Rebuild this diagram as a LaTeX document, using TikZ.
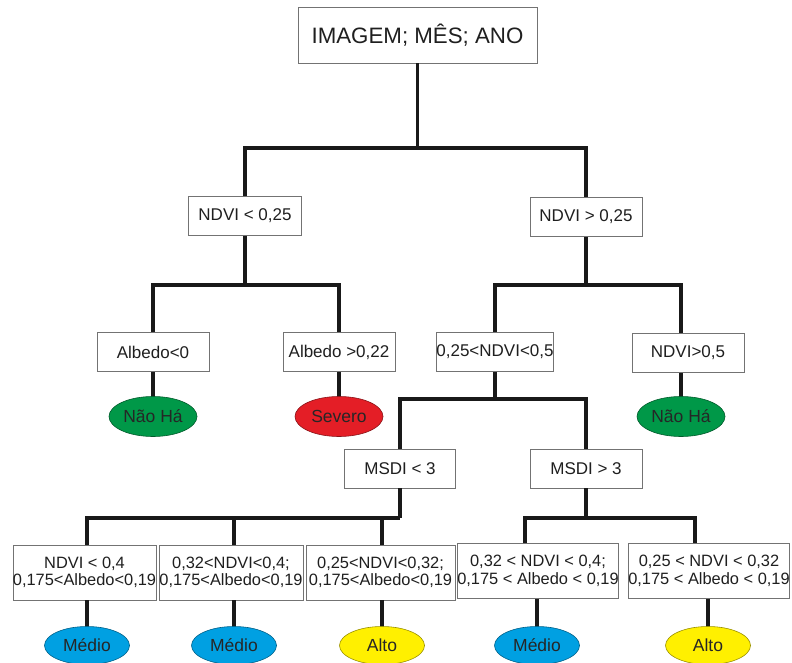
\documentclass[tikz,border=0pt]{standalone}
\usepackage{fontspec}
\setmainfont{Liberation Sans}
\usetikzlibrary{shapes.geometric}
\definecolor{lgreen}{RGB}{0,152,72}
\definecolor{lred}{RGB}{228,30,38}
\definecolor{lblue}{RGB}{0,160,226}
\definecolor{lyellow}{RGB}{255,240,0}
\tikzset{
  conn/.style={line width=3.6pt, draw=black!90},
  box/.style={draw=black!55, line width=0.8pt, fill=white, inner sep=0pt, align=center, text=black!88},
  lbl/.style={box, font=\fontsize{17}{20}\selectfont, minimum height=39pt},
  bot/.style={box, font=\fontsize{16.4}{17.5}\selectfont, minimum height=55pt},
  leaf/.style={ellipse, draw=#1!60!black, fill=#1, line width=0.6pt, inner sep=0pt,
    minimum width=88pt, minimum height=40pt, font=\fontsize{17.5}{19}\selectfont, text=black!85},
  leafb/.style={leaf=#1, minimum width=85pt, minimum height=38pt},
}
\begin{document}
\begin{tikzpicture}[x=1pt,y=-1pt]
\useasboundingbox[fill=white] (0,0) rectangle (792,663);
% nodes
\node[box, font=\fontsize{22.3}{26}\selectfont, minimum width=239pt, minimum height=56pt] (top) at (417.5,35) {IMAGEM; MÊS; ANO};
\node[lbl, minimum width=113pt] (n1) at (245,216) {NDVI < 0,25};
\node[lbl, minimum width=112pt] (n2) at (586,217) {NDVI > 0,25};
\node[lbl, minimum width=112pt] (a1) at (153,352) {Albedo<0};
\node[lbl, minimum width=112pt] (a2) at (339,352) {Albedo >0,22};
\node[lbl, minimum width=117pt] (a3) at (495,352) {0,25<NDVI<0,5};
\node[lbl, minimum width=112pt] (a4) at (688,353) {NDVI>0,5};
\node[leaf=lgreen] (e1) at (153,416.5) {Não Há};
\node[leaf=lred] (e2) at (339,416.5) {Severo};
\node[leaf=lgreen] (e3) at (681,416.5) {Não Há};
\node[lbl, minimum width=111pt] (m1) at (400,468.5) {MSDI < 3};
\node[lbl, minimum width=112pt] (m2) at (586,468.5) {MSDI > 3};
\node[bot, minimum width=143pt] (b1) at (84.5,572.5) {NDVI < 0,4\\0,175<Albedo<0,19};
\node[bot, minimum width=144pt] (b2) at (231,572.5) {0,32<NDVI<0,4;\\0,175<Albedo<0,19};
\node[bot, minimum width=149pt] (b3) at (380.5,572.5) {0,25<NDVI<0,32;\\0,175<Albedo<0,19};
\node[bot, minimum width=160pt] (b4) at (538,571) {0,32 < NDVI < 0,4;\\0,175 < Albedo < 0,19};
\node[bot, minimum width=160pt] (b5) at (709,571) {0,25 < NDVI < 0,32\\0,175 < Albedo < 0,19};
\node[leafb=lblue] (l1) at (87,645.5) {Médio};
\node[leafb=lblue] (l2) at (234,645.5) {Médio};
\node[leafb=lyellow] (l3) at (382,645.5) {Alto};
\node[leafb=lblue] (l4) at (537,645.5) {Médio};
\node[leafb=lyellow] (l5) at (708,645.5) {Alto};
% junctions
\coordinate (j0) at (417.5,148);
\coordinate (j1) at (245,285);
\coordinate (j2) at (586,285);
\coordinate (j3) at (495,399);
\coordinate (j4) at (400,518);
\coordinate (j5) at (586,518);
\coordinate (k4) at (525,0);
\coordinate (k5) at (695,0);
% connectors
\draw[conn] (top.south) -- (j0);
\draw[conn] (n1.north) |- (j0) -| (n2.north);
\draw[conn] (n1.south) -- (j1);
\draw[conn] (a1.north) |- (j1) -| (a2.north);
\draw[conn] (n2.south) -- (j2);
\draw[conn] (a3.north) |- (j2) -| (a4.north -| e3);
\draw[conn] (a1.south) -- (e1.north);
\draw[conn] (a2.south) -- (e2.north);
\draw[conn] (a4.south -| e3) -- (e3.north);
\draw[conn] (a3.south) -- (j3);
\draw[conn] (m1.north) |- (j3) -| (m2.north);
\draw[conn] (m1.south) -- (j4);
\draw[conn] (b1.north -| l1) |- (j4);
\draw[conn] (b2.north -| l2) -- (j4 -| l2);
\draw[conn] (b3.north -| l3) -- (j4 -| l3);
\draw[conn] (m2.south) -- (j5);
\draw[conn] (b4.north -| k4) |- (j5) -| (b5.north -| k5);
\draw[conn] (b1.south -| l1) -- (l1.north);
\draw[conn] (b2.south -| l2) -- (l2.north);
\draw[conn] (b3.south -| l3) -- (l3.north);
\draw[conn] (b4.south -| l4) -- (l4.north);
\draw[conn] (b5.south -| l5) -- (l5.north);
\end{tikzpicture}
\end{document}
